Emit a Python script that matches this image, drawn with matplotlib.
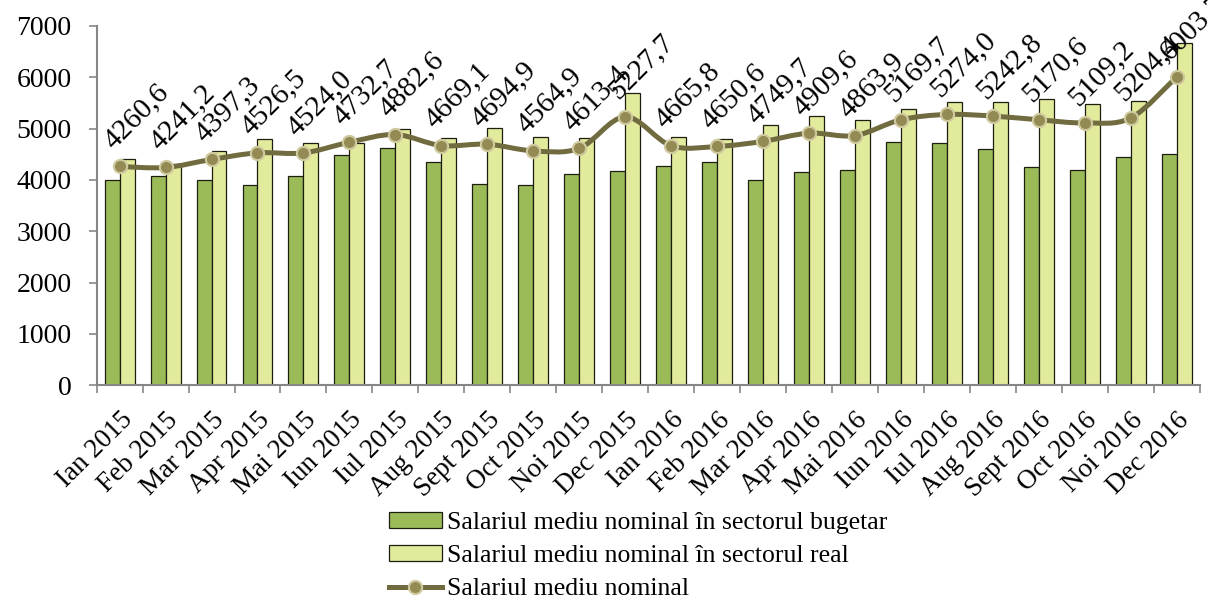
import numpy as np
import matplotlib
matplotlib.use('Agg')
import matplotlib.pyplot as plt
from matplotlib.path import Path
from matplotlib.patches import PathPatch, Patch
from matplotlib.lines import Line2D

plt.rcParams['font.family'] = ['Liberation Serif', 'DejaVu Serif']

# date
months = ['Ian 2015', 'Feb 2015', 'Mar 2015', 'Apr 2015', 'Mai 2015', 'Iun 2015',
          'Iul 2015', 'Aug 2015', 'Sept 2015', 'Oct 2015', 'Noi 2015', 'Dec 2015',
          'Ian 2016', 'Feb 2016', 'Mar 2016', 'Apr 2016', 'Mai 2016', 'Iun 2016',
          'Iul 2016', 'Aug 2016', 'Sept 2016', 'Oct 2016', 'Noi 2016', 'Dec 2016']
buget = [4000, 4070, 4000, 3900, 4070, 4480, 4620, 4340, 3925, 3900, 4120, 4165,
         4270, 4340, 4000, 4145, 4190, 4745, 4715, 4595, 4245, 4190, 4445, 4495]
real = [4400, 4300, 4570, 4795, 4715, 4720, 5000, 4820, 5015, 4840, 4820, 5690,
        4840, 4795, 5060, 5235, 5165, 5375, 5515, 5515, 5570, 5485, 5540, 6670]
mediu = [4260.6, 4241.2, 4397.3, 4526.5, 4524.0, 4732.7, 4882.6, 4669.1, 4694.9,
         4564.9, 4613.4, 5227.7, 4665.8, 4650.6, 4749.7, 4909.6, 4863.9, 5169.7,
         5274.0, 5242.8, 5170.6, 5109.2, 5204.4, 6003.7]

lbl_buget = 'Salariul mediu nominal în sectorul bugetar'
lbl_real = 'Salariul mediu nominal în sectorul real'
lbl_mediu = 'Salariul mediu nominal'

c_buget = '#9BBB59'
c_real = '#E2EA9B'
c_edge = '#1e1e10'
c_line = '#716B40'
c_mark = '#948B54'
c_mark_edge = '#CFC99F'
c_axis = '#868686'


def smooth_path(xs, ys):
    """curba neteda (Catmull-Rom -> Bezier) prin punctele date"""
    pts = np.column_stack([xs, ys]).astype(float)
    verts = [pts[0]]
    codes = [Path.MOVETO]
    n = len(pts)
    for i in range(n - 1):
        p0 = pts[max(i - 1, 0)]
        p1 = pts[i]
        p2 = pts[i + 1]
        p3 = pts[min(i + 2, n - 1)]
        c1 = p1 + (p2 - p0) / 6.0
        c2 = p2 - (p3 - p1) / 6.0
        verts += [c1, c2, p2]
        codes += [Path.CURVE4] * 3
    return Path(verts, codes)


fig = plt.figure(figsize=(12.08, 6.01), dpi=100)
ax = fig.add_axes([0.080, 0.359, 0.913, 0.598])

x = np.arange(len(months))
w = 0.325
ax.bar(x - w / 2, buget, w, color=c_buget, edgecolor=c_edge, linewidth=0.9, zorder=2)
ax.bar(x + w / 2, real, w, color=c_real, edgecolor=c_edge, linewidth=0.9, zorder=2)

ax.add_patch(PathPatch(smooth_path(x, mediu), fill=False, edgecolor=c_line,
                       linewidth=3.6, capstyle='round', zorder=3))
ax.plot(x, mediu, linestyle='none', marker='o', markersize=9.5,
        markerfacecolor=c_mark, markeredgecolor=c_mark_edge, markeredgewidth=1.5, zorder=4)

for xi, v in zip(x, mediu):
    s = f'{v:.1f}'.replace('.', ',')
    ax.annotate(s, (xi, v), xytext=(-5, 12), textcoords='offset points',
                rotation=45, rotation_mode='anchor', ha='left', va='baseline',
                fontsize=21, annotation_clip=False, zorder=5)

ax.set_xlim(-0.5, len(months) - 0.5)
ax.set_ylim(0, 7000)
ax.set_yticks(np.arange(0, 7001, 1000))
ax.tick_params(axis='y', length=6, width=1.2, color=c_axis, labelsize=20, pad=12)

ax.set_xticks(x)
ax.set_xticklabels(months, rotation=45, ha='right', rotation_mode='anchor', fontsize=19.5)
ax.tick_params(axis='x', which='major', length=0, pad=16)
ax.set_xticks(np.arange(-0.5, len(months), 1.0), minor=True)
ax.tick_params(axis='x', which='minor', length=6, width=1.2, color=c_axis)

for side in ['top', 'right']:
    ax.spines[side].set_visible(False)
for side in ['left', 'bottom']:
    ax.spines[side].set_color(c_axis)
    ax.spines[side].set_linewidth(1.5)

handles = [Patch(facecolor=c_buget, edgecolor=c_edge, linewidth=0.9),
           Patch(facecolor=c_real, edgecolor=c_edge, linewidth=0.9),
           Line2D([], [], color=c_line, linewidth=3.6, marker='o', markersize=9.5,
                  markerfacecolor=c_mark, markeredgecolor=c_mark_edge, markeredgewidth=1.5)]
fig.legend(handles, [lbl_buget, lbl_real, lbl_mediu], loc='upper left',
           bbox_to_anchor=(0.322, 0.148), bbox_transform=fig.transFigure, frameon=False,
           fontsize=18.5, handlelength=2.05, handleheight=0.6, handletextpad=0.2,
           labelspacing=0.42, borderpad=0, borderaxespad=0)

fig.savefig('out.png', dpi=100)
